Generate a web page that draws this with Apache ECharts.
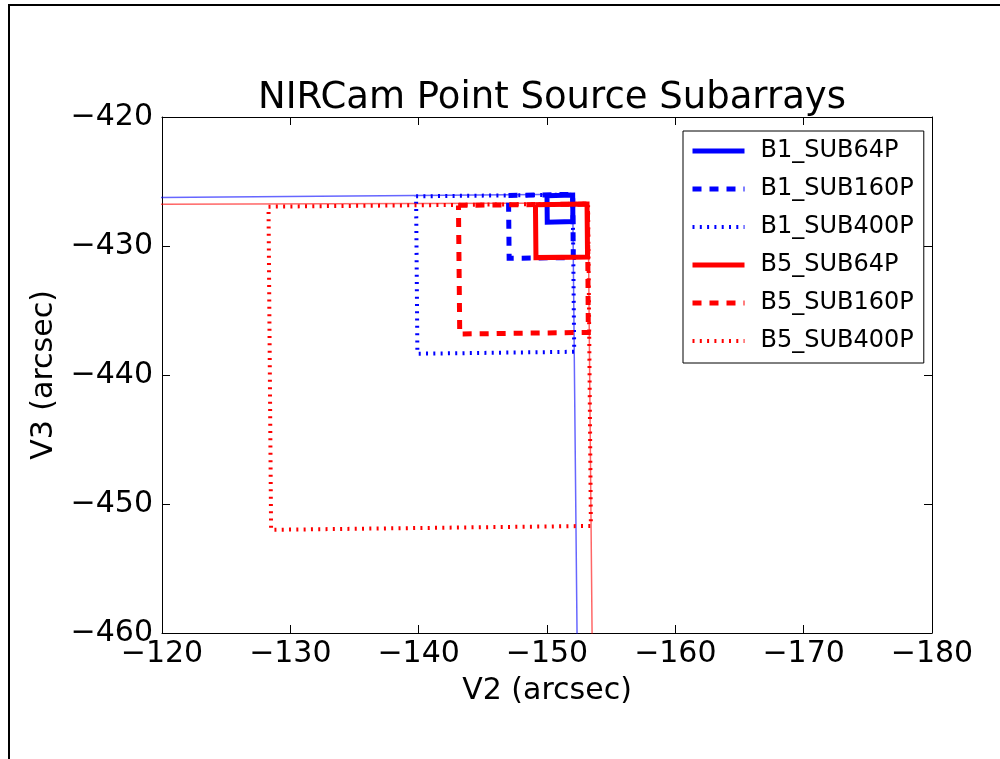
<!DOCTYPE html>
<html>
<head>
<meta charset="utf-8">
<script src="https://cdn.jsdelivr.net/npm/echarts@6/dist/echarts.min.js"></script>
<style>
  html, body { margin: 0; padding: 0; background: #fff; }
  #chart { width: 1000px; height: 759px; }
</style>
</head>
<body>
<div id="chart"></div>
<script>
// corners of each subarray box [V2, V3], closed
var b1Sub64p = [[-150.0, -426.1], [-152.0, -426.05], [-152.02, -428.1], [-150.02, -428.15], [-150.0, -426.1]]
var b1Sub160p = [[-147.0, -426.08], [-152.0, -426.0], [-152.05, -430.9], [-147.05, -430.95], [-147.0, -426.08]]
var b1Sub400p = [[-139.8, -426.15], [-152.0, -426.02], [-152.12, -438.2], [-139.9, -438.35], [-139.8, -426.15]]
var b5Sub64p = [[-149.1, -426.8], [-153.12, -426.75], [-153.16, -430.85], [-149.14, -430.9], [-149.1, -426.8]]
var b5Sub160p = [[-143.1, -426.85], [-153.15, -426.75], [-153.22, -436.7], [-143.2, -436.82], [-143.1, -426.85]]
var b5Sub400p = [[-128.3, -426.95], [-153.2, -426.72], [-153.42, -451.7], [-128.5, -452.0], [-128.3, -426.95]]
// full detector outlines (thin)
var b1Full = [[-100, -426.39], [-152.0, -425.98], [-152.54, -480]]
var b5Full = [[-100, -426.83], [-153.2, -426.66], [-153.7, -480]]

var seriesNames = ['B1_SUB64P', 'B1_SUB160P', 'B1_SUB400P', 'B5_SUB64P', 'B5_SUB160P', 'B5_SUB400P']
var xTicks = { min: -180, max: -120, step: 10 }
var yTicks = { min: -460, max: -420, step: 10 }

var DASHED = [9, 8]
var DOTTED = [2, 5.3]

function minus(v) {
  return (v < 0 ? '\u2212' : '') + Math.abs(v)
}

function box(name, data, color, type, width) {
  return {
    name: name,
    type: 'line',
    data: data,
    symbol: 'none',
    silent: true,
    clip: true,
    lineStyle: { color: color, width: width, type: type, cap: 'butt', join: 'miter' },
    itemStyle: { color: color },
    z: 3
  }
}

function outline(data, color) {
  return {
    type: 'line',
    data: data,
    symbol: 'none',
    silent: true,
    clip: true,
    lineStyle: { color: color, width: 1.5, opacity: 0.6 },
    z: 2
  }
}

var chart = echarts.init(document.getElementById('chart'))

var axisLine = { show: true, lineStyle: { color: '#000', width: 1 } }
var tickIn = { show: true, inside: true, length: 8, lineStyle: { color: '#000' } }
var font = 'DejaVu Sans'

chart.setOption({
  animation: false,
  backgroundColor: '#fff',
  title: {
    text: 'NIRCam Point Source Subarrays',
    left: 547,
    textAlign: 'center',
    top: 75,
    textStyle: { fontFamily: font, fontSize: 37, fontWeight: 'normal', color: '#000' }
  },
  grid: { left: 162, right: 68, top: 117, bottom: 126 },
  legend: {
    data: seriesNames,
    orient: 'vertical',
    left: 683,
    top: 131,
    padding: [8, 10, 10, 7],
    itemWidth: 52,
    itemHeight: 14,
    itemGap: 14,
    backgroundColor: '#fff',
    borderColor: '#000',
    borderWidth: 1,
    borderRadius: 0,
    selectedMode: false,
    itemStyle: { opacity: 0, borderWidth: 0 },
    lineStyle: { width: 'inherit' },
    textStyle: { fontFamily: font, fontSize: 24, lineHeight: 23, color: '#000', padding: [0, 0, 0, 11] }
  },
  xAxis: [{
    type: 'value',
    inverse: true,
    min: xTicks.min,
    max: xTicks.max,
    interval: xTicks.step,
    position: 'bottom',
    name: 'V2 (arcsec)',
    nameLocation: 'middle',
    nameGap: 43,
    nameTextStyle: { fontFamily: font, fontSize: 30, color: '#000' },
    axisLine: axisLine,
    axisTick: tickIn,
    splitLine: { show: false },
    axisLabel: { fontFamily: font, fontSize: 30, color: '#000', margin: 6, formatter: minus }
  }, {
    type: 'value',
    inverse: true,
    min: xTicks.min,
    max: xTicks.max,
    interval: xTicks.step,
    position: 'top',
    axisLine: axisLine,
    axisTick: tickIn,
    splitLine: { show: false },
    axisLabel: { show: false }
  }],
  yAxis: [{
    type: 'value',
    min: yTicks.min,
    max: yTicks.max,
    interval: yTicks.step,
    position: 'left',
    name: 'V3 (arcsec)',
    nameLocation: 'middle',
    nameGap: 88,
    nameTextStyle: { fontFamily: font, fontSize: 30, color: '#000' },
    axisLine: axisLine,
    axisTick: tickIn,
    splitLine: { show: false },
    axisLabel: { fontFamily: font, fontSize: 30, color: '#000', margin: 9, formatter: minus }
  }, {
    type: 'value',
    min: yTicks.min,
    max: yTicks.max,
    interval: yTicks.step,
    position: 'right',
    axisLine: axisLine,
    axisTick: tickIn,
    splitLine: { show: false },
    axisLabel: { show: false }
  }],
  graphic: [{
    type: 'polyline',
    shape: { points: [[9, 759], [9, 5], [1000, 5]] },
    style: { stroke: '#000', lineWidth: 2, fill: null },
    silent: true
  }],
  series: [
    outline(b1Full, '#0000ff'),
    outline(b5Full, '#ff0000'),
    box(seriesNames[0], b1Sub64p, '#0000ff', 'solid', 5),
    box(seriesNames[1], b1Sub160p, '#0000ff', DASHED, 5),
    box(seriesNames[2], b1Sub400p, '#0000ff', DOTTED, 4),
    box(seriesNames[3], b5Sub64p, '#ff0000', 'solid', 5),
    box(seriesNames[4], b5Sub160p, '#ff0000', DASHED, 5),
    box(seriesNames[5], b5Sub400p, '#ff0000', DOTTED, 4)
  ]
})

window.addEventListener('resize', function() {
  chart.resize()
})
</script>
</body>
</html>
